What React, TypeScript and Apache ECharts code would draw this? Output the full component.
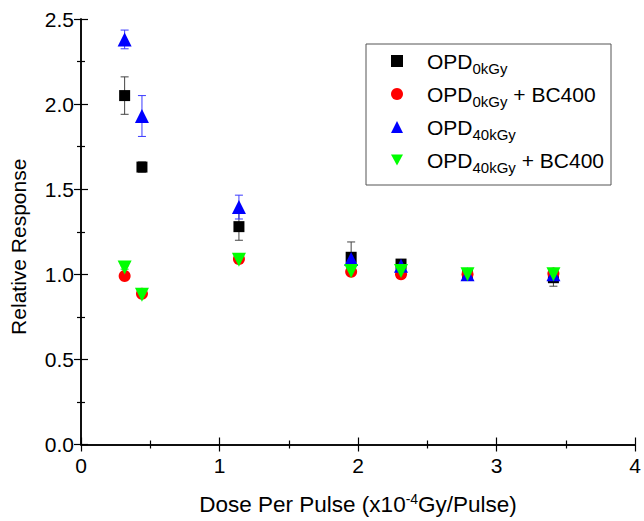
import React, { useEffect, useRef } from "react";
import * as echarts from "echarts";

const doseX = [0.315, 0.44, 1.14, 1.95, 2.31, 2.79, 3.41];
const opd0 = [2.05, 1.63, 1.28, 1.1, 1.06, 1.0, 0.98];
const opd0Err = [0.11, 0.03, 0.08, 0.09, 0.02, 0.02, 0.05];
const opd0Bc = [0.99, 0.885, 1.09, 1.015, 1.0, 1.0, 1.005];
const opd0BcErr = [0.01, 0.01, 0.01, 0.01, 0.01, 0.01, 0.01];
const opd40 = [2.38, 1.93, 1.395, 1.09, 1.05, 1.0, 1.0];
const opd40Err = [0.055, 0.12, 0.07, 0.02, 0.02, 0.02, 0.02];
const opd40Bc = [1.04, 0.88, 1.085, 1.02, 1.02, 1.0, 1.0];
const opd40BcErr = [0.01, 0.01, 0.01, 0.01, 0.01, 0.01, 0.01];

const names = ["OPD0", "OPD0BC", "OPD40", "OPD40BC"];
const legendLabels: Record<string, string> = {
  OPD0: "{g|}{a|OPD}{s|0kGy}",
  OPD0BC: "{g|}{a|OPD}{s|0kGy}{a| + BC400}",
  OPD40: "{g|}{a|OPD}{s|40kGy}",
  OPD40BC: "{g|}{a|OPD}{s|40kGy}{a| + BC400}",
};

const FONT = "Liberation Sans, Arial, sans-serif";

function scatter(name: string, vals: number[], symbol: string, size: number, color: string, rotate = 0) {
  return {
    name,
    type: "scatter",
    symbol,
    symbolSize: size,
    symbolRotate: rotate,
    itemStyle: { color, opacity: 1 },
    data: doseX.map((x, i) => [x, vals[i]]),
    z: 3,
  };
}

function errBars(vals: number[], errs: number[], color: string) {
  return {
    type: "custom",
    silent: true,
    z: 2,
    renderItem: (_p: any, api: any) => {
      const x = api.value(0);
      const lo = api.value(1);
      const hi = api.value(2);
      const a = api.coord([x, hi]);
      const b = api.coord([x, lo]);
      const w = 4;
      const st = { stroke: color, lineWidth: 1 };
      return {
        type: "group",
        children: [
          { type: "line", shape: { x1: a[0], y1: a[1], x2: b[0], y2: b[1] }, style: st },
          { type: "line", shape: { x1: a[0] - w, y1: a[1], x2: a[0] + w, y2: a[1] }, style: st },
          { type: "line", shape: { x1: b[0] - w, y1: b[1], x2: b[0] + w, y2: b[1] }, style: st },
        ],
      };
    },
    data: doseX.map((x, i) => [x, vals[i] - errs[i], vals[i] + errs[i]]),
  };
}

export default function App() {
  const ref = useRef<HTMLDivElement>(null);
  useEffect(() => {
    const chart = echarts.init(ref.current!, null, { renderer: "svg" });
    const axisCommon = {
      axisLine: { show: true, lineStyle: { color: "#000", width: 1.5 } },
      axisTick: { show: true, inside: true, length: 7, lineStyle: { color: "#000", width: 1.2 } },
      minorTick: { show: true, splitNumber: 2, length: 4, lineStyle: { color: "#000", width: 1.2 } },
      splitLine: { show: false },
    };
    chart.setOption({
      animation: false,
      textStyle: { fontFamily: FONT },
      grid: { left: 79, right: 6, top: 19, bottom: 74 },
      legend: {
        orient: "vertical",
        left: 366,
        top: 44,
        data: [
          { name: "OPD0" },
          { name: "OPD0BC" },
          { name: "OPD40" },
          { name: "OPD40BC", icon: "path://M0,0 L12,0 L6,11 Z" },
        ],
        itemWidth: 12,
        itemHeight: 12,
        itemGap: 3,
        padding: [2, 7, 10, 25],
        borderColor: "#555",
        borderWidth: 1,
        formatter: (n: string) => legendLabels[n],
        textStyle: {
          fontFamily: FONT,
          rich: {
            g: { width: 19, fontSize: 21, lineHeight: 28 },
            a: { fontSize: 21, color: "#000", lineHeight: 28, fontFamily: FONT },
            s: { fontSize: 15, color: "#000", lineHeight: 28, fontFamily: FONT, padding: [15, 0, 0, 0] },
          },
        },
      },
      xAxis: [
        {
          type: "value",
          min: 0,
          max: 4,
          interval: 1,
          ...axisCommon,
          axisLabel: { fontSize: 21, color: "#000", margin: 10, fontFamily: FONT },
          name: "Dose Per Pulse (x10{p|-4}Gy/Pulse)",
          nameLocation: "middle",
          nameGap: 47,
          nameTextStyle: {
            fontSize: 22.5,
            color: "#000",
            fontFamily: FONT,
            rich: {
              p: { fontSize: 14, color: "#000", fontFamily: FONT, padding: [0, 0, 12, 0] },
            },
          },
        },
        {
          type: "value",
          position: "top",
          min: 0,
          max: 4,
          interval: 1,
          ...axisCommon,
          axisLabel: { show: false },
        },
      ],
      yAxis: [
        {
          type: "value",
          min: 0,
          max: 2.5,
          interval: 0.5,
          ...axisCommon,
          axisLabel: {
            fontSize: 21,
            color: "#000",
            margin: 7,
            fontFamily: FONT,
            formatter: (v: number) => v.toFixed(1),
          },
          name: "Relative Response",
          nameLocation: "middle",
          nameGap: 52,
          nameTextStyle: { fontSize: 21, color: "#000", fontFamily: FONT, padding: [0, 30, 0, 0] },
        },
        {
          type: "value",
          position: "right",
          min: 0,
          max: 2.5,
          interval: 0.5,
          ...axisCommon,
          axisLabel: { show: false },
        },
      ],
      series: [
        errBars(opd0, opd0Err, "#444"),
        scatter("OPD0", opd0, "rect", 11, "#000"),
        errBars(opd0Bc, opd0BcErr, "#ff3030"),
        scatter("OPD0BC", opd0Bc, "circle", 12, "#ff0000"),
        errBars(opd40, opd40Err, "#3a3aff"),
        scatter("OPD40", opd40, "triangle", 14, "#0000ff"),
        errBars(opd40Bc, opd40BcErr, "#20d020"),
        scatter("OPD40BC", opd40Bc, "triangle", 14, "#00ff00", 180),
      ],
    });
    return () => chart.dispose();
  }, []);
  return (
    <div
      ref={ref}
      style={{ width: 644, height: 521, position: "absolute", left: 0, top: 0, background: "#fff" }}
    />
  );
}
